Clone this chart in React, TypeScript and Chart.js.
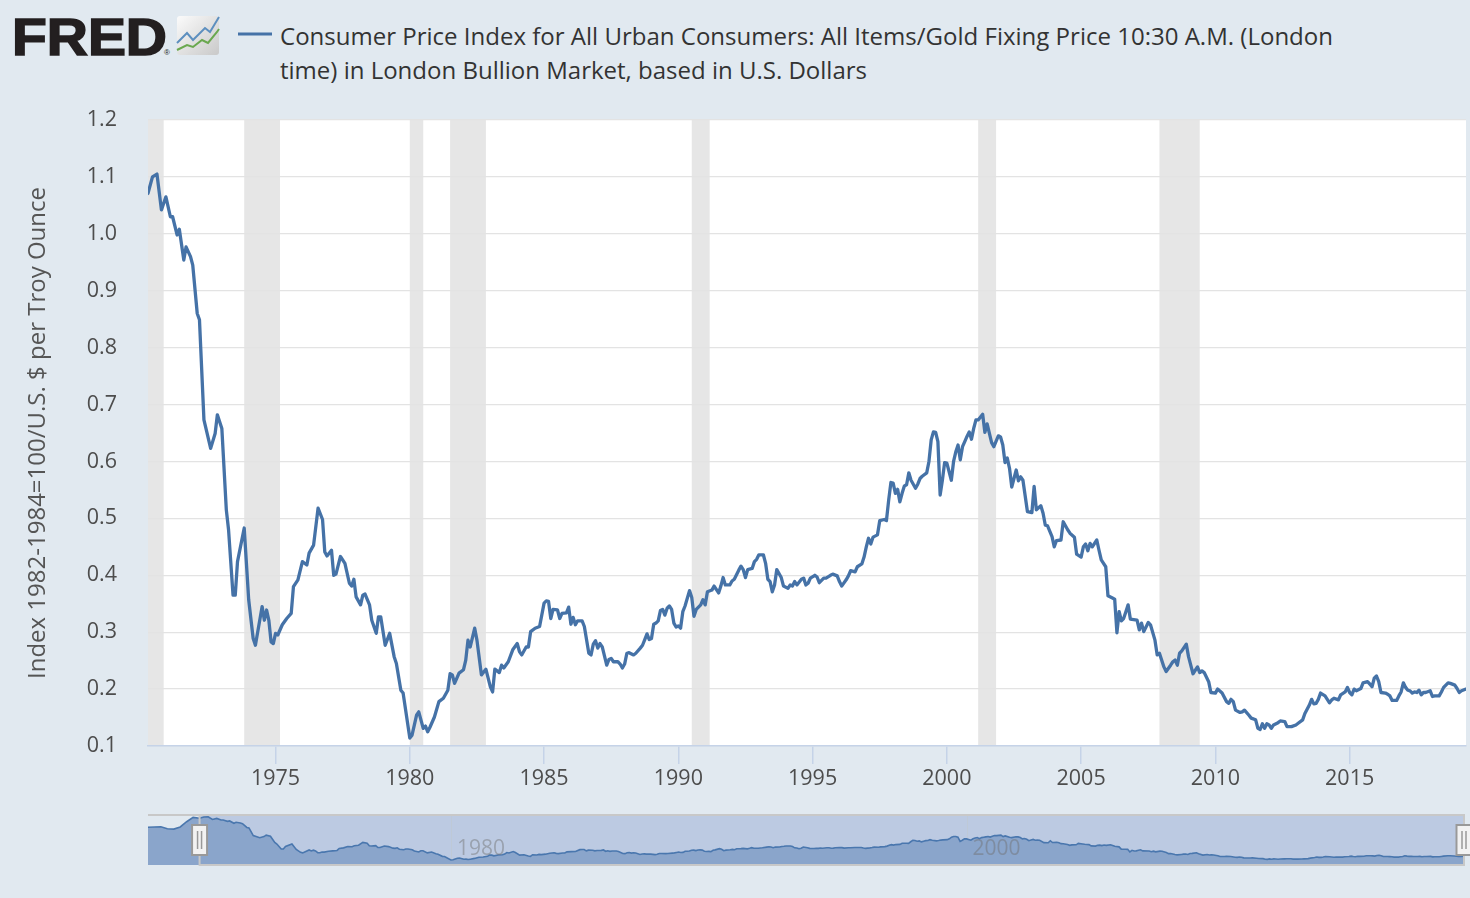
import React, { useEffect, useRef } from "react";
import { Chart, registerables } from "chart.js";

Chart.register(...registerables);

// ---- data ----
const months = [
  "1968-04","1968-07","1968-10",
  "1969-01","1969-04","1969-07","1969-10",
  "1970-01","1970-04","1970-06","1970-08","1970-10","1970-12",
  "1971-02","1971-03","1971-05","1971-06","1971-08","1971-09","1971-11","1971-12",
  "1972-02","1972-03","1972-05","1972-08","1972-10","1972-11",
  "1973-01","1973-03","1973-04","1973-06","1973-07","1973-08","1973-11",
  "1974-01","1974-03","1974-04","1974-07","1974-08","1974-09","1974-10","1974-11","1974-12",
  "1975-01","1975-02","1975-04","1975-06","1975-08","1975-09","1975-11",
  "1976-01","1976-03","1976-04","1976-06","1976-08","1976-10","1976-11","1976-12",
  "1977-02","1977-03","1977-04","1977-06","1977-08","1977-10","1977-11","1977-12",
  "1978-01","1978-03","1978-04","1978-05","1978-07","1978-08","1978-10","1978-11","1978-12",
  "1979-02","1979-04","1979-06","1979-07","1979-09","1979-10",
  "1980-01","1980-02","1980-04","1980-05","1980-07","1980-08","1980-09","1980-10","1980-12",
  "1981-02","1981-04","1981-06","1981-07","1981-08","1981-09","1981-11",
  "1982-01","1982-02","1982-03","1982-04","1982-06","1982-07","1982-09","1982-11",
  "1983-01","1983-02","1983-03","1983-05","1983-06","1983-07","1983-09","1983-11",
  "1984-01","1984-02","1984-03","1984-05","1984-06","1984-07","1984-09","1984-11",
  "1985-01","1985-02","1985-03","1985-04","1985-05","1985-07","1985-08","1985-09","1985-11","1985-12",
  "1986-01","1986-02","1986-03","1986-04","1986-06","1986-07","1986-09","1986-10","1986-11","1986-12",
  "1987-01","1987-02","1987-03","1987-05","1987-06","1987-07","1987-08","1987-10","1987-11","1987-12",
  "1988-01","1988-02","1988-03","1988-05","1988-06","1988-08","1988-09","1988-10","1988-11","1988-12",
  "1989-01","1989-02","1989-03","1989-04","1989-05","1989-06","1989-07","1989-08","1989-09","1989-10","1989-11","1989-12",
  "1990-01","1990-02","1990-03","1990-04","1990-06","1990-07","1990-08","1990-09","1990-11","1990-12",
  "1991-01","1991-02","1991-04","1991-05","1991-07","1991-08","1991-09","1991-10","1991-12",
  "1992-01","1992-02","1992-04","1992-05","1992-06","1992-07","1992-08","1992-10","1992-11","1992-12",
  "1993-01","1993-03","1993-04","1993-05","1993-06","1993-07","1993-08","1993-09","1993-11","1993-12",
  "1994-02","1994-03","1994-04","1994-05","1994-06","1994-08","1994-09","1994-10","1994-11","1994-12",
  "1995-02","1995-03","1995-04","1995-06","1995-07","1995-09","1995-10","1995-12",
  "1996-01","1996-02","1996-04","1996-05","1996-06","1996-08","1996-09","1996-11","1996-12",
  "1997-01","1997-02","1997-03","1997-04","1997-06","1997-07","1997-09","1997-10","1997-11","1997-12",
  "1998-01","1998-02","1998-03","1998-04","1998-05","1998-06","1998-07","1998-08","1998-09","1998-11","1998-12",
  "1999-01","1999-02","1999-04","1999-05","1999-06","1999-07","1999-08","1999-09","1999-10","1999-11","1999-12",
  "2000-01","2000-03","2000-04","2000-05","2000-06","2000-07","2000-08","2000-09","2000-10","2000-11","2000-12",
  "2001-01","2001-02","2001-03","2001-05","2001-06","2001-07","2001-09","2001-10","2001-12",
  "2002-01","2002-02","2002-03","2002-04","2002-05","2002-06","2002-07","2002-08","2002-09","2002-10","2002-11",
  "2003-01","2003-03","2003-04","2003-05","2003-07","2003-08","2003-09","2003-10","2003-12",
  "2004-01","2004-02","2004-04","2004-05","2004-07","2004-08","2004-10","2004-11",
  "2005-01","2005-02","2005-03","2005-04","2005-05","2005-06","2005-08","2005-09","2005-10","2005-12",
  "2006-01","2006-03","2006-04","2006-05","2006-06","2006-07","2006-08","2006-09","2006-10","2006-11",
  "2007-02","2007-03","2007-04","2007-05","2007-07","2007-08","2007-10","2007-11","2007-12",
  "2008-02","2008-03","2008-05","2008-06","2008-07","2008-08","2008-09","2008-10","2008-12",
  "2009-01","2009-03","2009-05","2009-06","2009-07","2009-08","2009-10","2009-11",
  "2010-01","2010-02","2010-04","2010-06","2010-07","2010-08","2010-09","2010-10","2010-12",
  "2011-01","2011-02","2011-04","2011-05","2011-07","2011-08","2011-09","2011-10","2011-11","2011-12",
  "2012-01","2012-02","2012-03","2012-05","2012-06","2012-08","2012-09","2012-11",
  "2013-01","2013-02","2013-04","2013-05","2013-07","2013-08","2013-09","2013-10","2013-11","2013-12",
  "2014-02","2014-03","2014-04","2014-05","2014-06","2014-08","2014-09","2014-11","2014-12",
  "2015-01","2015-02","2015-03","2015-04","2015-06","2015-07","2015-09","2015-10","2015-11","2015-12",
  "2016-01","2016-02","2016-03","2016-05","2016-06","2016-07","2016-08","2016-10","2016-11","2016-12",
  "2017-01","2017-02","2017-03","2017-04","2017-05","2017-06","2017-07","2017-08","2017-09","2017-10","2017-11",
  "2018-01","2018-02","2018-03","2018-05","2018-06","2018-07","2018-09","2018-10","2018-12",
  "2019-01","2019-02","2019-03","2019-05",
];

const values = [
  0.863,0.870,0.876,
  0.830,0.822,0.870,0.990,
  1.090,1.071,1.100,1.105,1.042,1.065,
  1.030,1.030,0.998,1.008,0.954,0.977,0.960,0.945,
  0.860,0.849,0.673,0.623,0.649,0.682,
  0.658,0.515,0.480,0.365,0.365,0.424,0.483,
  0.357,0.289,0.277,0.345,0.321,0.339,0.321,0.283,0.280,
  0.298,0.295,0.313,0.324,0.333,0.380,0.392,
  0.424,0.418,0.439,0.453,0.518,0.498,0.441,0.434,
  0.444,0.400,0.402,0.433,0.421,0.386,0.381,0.393,
  0.362,0.348,0.365,0.367,0.348,0.321,0.298,0.327,0.327,
  0.277,0.298,0.257,0.245,0.198,0.193,
  0.114,0.119,0.154,0.160,0.131,0.135,0.125,0.133,0.151,
  0.178,0.184,0.198,0.227,0.225,0.210,0.228,
  0.234,0.251,0.286,0.274,0.307,0.286,0.225,0.235,
  0.204,0.195,0.235,0.229,0.242,0.237,0.248,0.269,
  0.280,0.266,0.260,0.274,0.274,0.301,0.307,0.310,
  0.351,0.355,0.354,0.324,0.340,0.339,0.324,0.333,0.334,0.344,
  0.314,0.326,0.313,0.320,0.320,0.310,0.263,0.260,0.279,0.285,
  0.272,0.280,0.274,0.242,0.252,0.254,0.248,0.248,0.244,0.237,
  0.244,0.263,0.264,0.260,0.263,0.272,0.277,0.287,0.297,0.287,
  0.289,0.314,0.316,0.320,0.338,0.340,0.330,0.342,0.346,0.340,0.316,0.309,
  0.311,0.307,0.336,0.346,0.373,0.361,0.328,0.340,0.348,0.357,
  0.348,0.371,0.374,0.381,0.369,0.381,0.396,0.383,0.383,
  0.390,0.393,0.409,0.416,0.410,0.396,0.410,0.412,0.424,0.428,
  0.436,0.436,0.421,0.393,0.389,0.371,0.383,0.410,0.396,0.381,
  0.377,0.383,0.381,0.389,0.383,0.393,0.395,0.383,0.386,0.395,
  0.400,0.397,0.387,0.395,0.395,0.400,0.402,0.399,
  0.389,0.381,0.392,0.399,0.408,0.406,0.415,0.420,0.432,
  0.450,0.465,0.455,0.467,0.471,0.496,0.498,0.496,0.532,0.563,
  0.562,0.544,0.551,0.529,0.544,0.557,0.559,0.580,0.567,0.553,0.560,
  0.570,0.574,0.580,0.600,0.638,0.652,0.651,0.635,0.541,0.567,0.598,
  0.597,0.567,0.600,0.617,0.629,0.603,0.626,0.635,0.644,0.652,0.639,
  0.658,0.673,0.673,0.683,0.651,0.666,0.633,0.626,0.645,
  0.643,0.629,0.598,0.606,0.588,0.555,0.570,0.585,0.566,0.573,0.567,
  0.512,0.510,0.556,0.515,0.522,0.509,0.488,0.487,0.468,
  0.450,0.461,0.462,0.494,0.480,0.474,0.467,0.437,
  0.432,0.450,0.455,0.443,0.456,0.450,0.462,0.444,0.427,0.415,
  0.364,0.360,0.358,0.299,0.336,0.320,0.324,0.336,0.348,0.323,
  0.321,0.304,0.316,0.301,0.317,0.313,0.286,0.260,0.263,
  0.239,0.231,0.242,0.248,0.251,0.242,0.263,0.267,0.279,
  0.257,0.227,0.239,0.229,0.232,0.229,0.213,0.194,
  0.193,0.200,0.193,0.178,0.175,0.182,0.178,0.163,0.159,
  0.160,0.163,0.154,0.149,0.146,0.131,0.129,0.139,0.131,0.139,
  0.137,0.131,0.137,0.141,0.144,0.143,0.134,0.134,
  0.137,0.140,0.146,0.157,0.172,0.182,0.174,0.175,0.182,0.193,
  0.188,0.182,0.176,0.181,0.184,0.181,0.190,0.195,0.203,
  0.194,0.190,0.200,0.197,0.201,0.211,0.213,0.209,0.204,0.219,
  0.223,0.213,0.194,0.193,0.191,0.188,0.180,0.180,0.188,0.195,
  0.211,0.203,0.198,0.197,0.193,0.195,0.194,0.198,0.190,0.194,0.194,
  0.197,0.187,0.188,0.188,0.195,0.203,0.211,0.210,0.207,
  0.201,0.194,0.197,0.200,
];

const recessionStarts = ["1969-12", "1973-11", "1980-01", "1981-07", "1990-07", "2001-03", "2007-12"];
const recessionEnds = ["1970-11", "1975-03", "1980-07", "1982-11", "1991-03", "2001-11", "2009-06"];

const viewStart = "1970-04";
const viewEnd = "2019-05";

const xTickYears = [1975, 1980, 1985, 1990, 1995, 2000, 2005, 2010, 2015];
const yTickValues = [0.1, 0.2, 0.3, 0.4, 0.5, 0.6, 0.7, 0.8, 0.9, 1.0, 1.1, 1.2];
const navigatorLabelYears = [1980, 2000];

const seriesTitleLines = [
  "Consumer Price Index for All Urban Consumers: All Items/Gold Fixing Price 10:30 A.M. (London",
  "time) in London Bullion Market, based in U.S. Dollars",
];
const yAxisTitle = "Index 1982-1984=100/U.S. $ per Troy Ounce";

// ---- styles ----
const BG = "#e1e9f0";
const LINE = "#4572a7";
const GRID = "#e3e3e3";
const REC = "#e6e6e6";
const AXIS = "#c5d3e8";
const TICK = "#4d4d4d";
const FONT = "'Open Sans', 'Noto Sans', sans-serif";
const NAV_FILL = "#8aa5cb";
const NAV_LINE = "#4a77ae";

function toYear(m: string): number {
  const [y, mo] = m.split("-").map(Number);
  return y + (mo - 1) / 12;
}

export default function App() {
  const mainRef = useRef<HTMLCanvasElement>(null);
  const navRef = useRef<HTMLCanvasElement>(null);

  useEffect(() => {
    document.body.style.margin = "0";
    document.body.style.background = BG;

    const n = Math.min(months.length, values.length);
    const pts = [] as { x: number; y: number }[];
    for (let i = 0; i < n; i++) pts.push({ x: toYear(months[i]), y: values[i] });
    const xMin = toYear(viewStart);
    const xMax = toYear(viewEnd);

    const bgPlugin = {
      id: "fredBg",
      beforeDraw(chart: any) {
        const { ctx, chartArea: a } = chart;
        const x = chart.scales.x;
        ctx.save();
        ctx.fillStyle = "#ffffff";
        ctx.fillRect(a.left, a.top, a.right - a.left, a.bottom - a.top);
        ctx.fillStyle = REC;
        recessionStarts.forEach((s, i) => {
          const x0 = Math.max(x.getPixelForValue(toYear(s)), a.left);
          const x1 = Math.min(x.getPixelForValue(toYear(recessionEnds[i])), a.right);
          if (x1 > x0) ctx.fillRect(x0, a.top, x1 - x0, a.bottom - a.top);
        });
        ctx.restore();
      },
    };

    const main = new Chart(mainRef.current as HTMLCanvasElement, {
      type: "line",
      data: {
        datasets: [
          {
            data: pts,
            borderColor: LINE,
            borderWidth: 3.3,
            pointRadius: 0,
            tension: 0,
            fill: false,
            borderJoinStyle: "round",
            borderCapStyle: "round",
            clip: 0,
          } as any,
        ],
      },
      options: {
        animation: false,
        responsive: true,
        maintainAspectRatio: false,
        events: [],
        layout: { padding: { left: 0, right: 4, top: 120, bottom: 0 } },
        plugins: { legend: { display: false }, tooltip: { enabled: false } },
        scales: {
          x: {
            type: "linear",
            min: xMin,
            max: xMax,
            afterFit: (s: any) => {
              s.height = 54;
            },
            afterBuildTicks: (s: any) => {
              s.ticks = xTickYears.map((v) => ({ value: v }));
            },
            ticks: {
              autoSkip: false,
              maxRotation: 0,
              padding: 2,
              color: TICK,
              font: { family: FONT, size: 21.5 },
              callback: (v: any) => String(v),
            },
            grid: { drawOnChartArea: false, drawTicks: true, tickLength: 18, color: AXIS, lineWidth: 1.5 },
            border: { display: true, color: AXIS, width: 1.5 },
          },
          y: {
            type: "linear",
            min: 0.1,
            max: 1.2,
            afterFit: (s: any) => {
              s.width = 148;
            },
            afterBuildTicks: (s: any) => {
              s.ticks = yTickValues.map((v) => ({ value: v }));
            },
            ticks: {
              padding: 31,
              color: TICK,
              font: { family: FONT, size: 21.5 },
              callback: (v: any) => Number(v).toFixed(1),
            },
            grid: { color: GRID, lineWidth: 1.2, drawTicks: false },
            border: { display: false },
            title: {
              display: true,
              text: yAxisTitle,
              color: "#555555",
              font: { family: FONT, size: 24 },
              padding: { top: 24, bottom: 0 },
            },
          },
        },
      } as any,
      plugins: [bgPlugin],
    });

    const navPlugin = {
      id: "fredNav",
      beforeDatasetsDraw(chart: any) {
        const { ctx, chartArea: a } = chart;
        const x = chart.scales.x;
        const xs = x.getPixelForValue(xMin);
        const xe = x.getPixelForValue(xMax);
        ctx.save();
        ctx.fillStyle = "rgba(102,133,194,0.3)";
        ctx.fillRect(xs, a.top, xe - xs, a.bottom - a.top);
        ctx.strokeStyle = "rgba(190,200,214,0.9)";
        ctx.lineWidth = 1;
        navigatorLabelYears.forEach((yr) => {
          const px = Math.round(x.getPixelForValue(yr)) + 0.5;
          ctx.beginPath();
          ctx.moveTo(px, a.top);
          ctx.lineTo(px, a.bottom);
          ctx.stroke();
        });
        ctx.restore();
      },
      afterDatasetsDraw(chart: any) {
        const { ctx, chartArea: a } = chart;
        const x = chart.scales.x;
        ctx.save();
        ctx.fillStyle = "rgba(110,110,110,0.45)";
        ctx.font = `21px ${FONT}`;
        ctx.textAlign = "left";
        ctx.textBaseline = "middle";
        navigatorLabelYears.forEach((yr) => {
          ctx.fillText(String(yr), x.getPixelForValue(yr) + 6, a.top + 34);
        });
        const xs = x.getPixelForValue(xMin);
        const xe = x.getPixelForValue(xMax) - 1;
        ctx.strokeStyle = "#c8c8c8";
        ctx.lineWidth = 2;
        ctx.beginPath();
        ctx.moveTo(a.left, a.top);
        ctx.lineTo(a.right, a.top);
        ctx.moveTo(xs, a.top);
        ctx.lineTo(xs, a.bottom);
        ctx.lineTo(xe, a.bottom);
        ctx.lineTo(xe, a.top);
        ctx.stroke();
        [xs, xe].forEach((hx) => {
          const top = a.top + 10;
          ctx.fillStyle = "#f2f2f2";
          ctx.strokeStyle = "#999999";
          ctx.lineWidth = 2;
          ctx.beginPath();
          ctx.rect(hx - 7.5, top, 15, 30);
          ctx.fill();
          ctx.stroke();
          ctx.lineWidth = 1.5;
          ctx.beginPath();
          ctx.moveTo(hx - 2, top + 6);
          ctx.lineTo(hx - 2, top + 24);
          ctx.moveTo(hx + 2, top + 6);
          ctx.lineTo(hx + 2, top + 24);
          ctx.stroke();
        });
        ctx.restore();
      },
    };

    const nav = new Chart(navRef.current as HTMLCanvasElement, {
      type: "line",
      data: {
        datasets: [
          {
            data: pts,
            borderColor: NAV_LINE,
            borderWidth: 1.6,
            pointRadius: 0,
            tension: 0,
            fill: "start",
            backgroundColor: NAV_FILL,
          } as any,
        ],
      },
      options: {
        animation: false,
        responsive: true,
        maintainAspectRatio: false,
        events: [],
        layout: { padding: { left: 148, right: 5, top: 15, bottom: 10 } },
        plugins: { legend: { display: false }, tooltip: { enabled: false } },
        scales: {
          x: { type: "linear", display: false, min: toYear(months[0]), max: toYear(months[n - 1]) },
          y: { type: "linear", display: false, min: 0, max: 1.144 },
        },
      } as any,
      plugins: [navPlugin],
    });

    return () => {
      main.destroy();
      nav.destroy();
    };
  }, []);

  return (
    <div style={{ position: "relative", width: 1470, height: 898, background: BG, overflow: "hidden" }}>
      <svg width={1470} height={110} style={{ position: "absolute", left: 0, top: 0 }}>
        <defs>
          <linearGradient id="fredIconBg" x1="0" y1="0" x2="1" y2="1">
            <stop offset="0" stopColor="#fbfbfb" />
            <stop offset="1" stopColor="#c9c9c9" />
          </linearGradient>
        </defs>
        <text
          x={12}
          y={55}
          fontFamily="'Liberation Sans', Arial, sans-serif"
          fontWeight={700}
          fontSize={52}
          fill="#231f20"
          stroke="#231f20"
          strokeWidth={1.6}
          textLength={155}
          lengthAdjust="spacingAndGlyphs"
        >
          FRED
        </text>
        <text x={164} y={55} fontFamily="'Liberation Sans', Arial, sans-serif" fontSize={8} fill="#231f20">
          ®
        </text>
        <rect x={177} y={16} width={42} height={39} rx={3} fill="url(#fredIconBg)" />
        <polyline
          points="177,43 187,33 193,40 205,28 210,32 219,17"
          fill="none"
          stroke="#5d8fbf"
          strokeWidth={2}
        />
        <polyline
          points="177,50 187,45 193,47 202,40 208,43 217,32 219,29"
          fill="none"
          stroke="#6aa84f"
          strokeWidth={2}
        />
        <line x1={238} y1={34} x2={272} y2={34} stroke={LINE} strokeWidth={3} />
        <text
          x={280}
          y={45}
          fontFamily={FONT}
          fontSize={24}
          fill="#333333"
          textLength={1053}
          lengthAdjust="spacingAndGlyphs"
        >
          {seriesTitleLines[0]}
        </text>
        <text
          x={280}
          y={79}
          fontFamily={FONT}
          fontSize={24}
          fill="#333333"
          textLength={587}
          lengthAdjust="spacingAndGlyphs"
        >
          {seriesTitleLines[1]}
        </text>
      </svg>
      <div style={{ position: "absolute", left: 0, top: 0, width: 1470, height: 800 }}>
        <canvas ref={mainRef} />
      </div>
      <div style={{ position: "absolute", left: 0, top: 800, width: 1470, height: 75 }}>
        <canvas ref={navRef} />
      </div>
    </div>
  );
}
